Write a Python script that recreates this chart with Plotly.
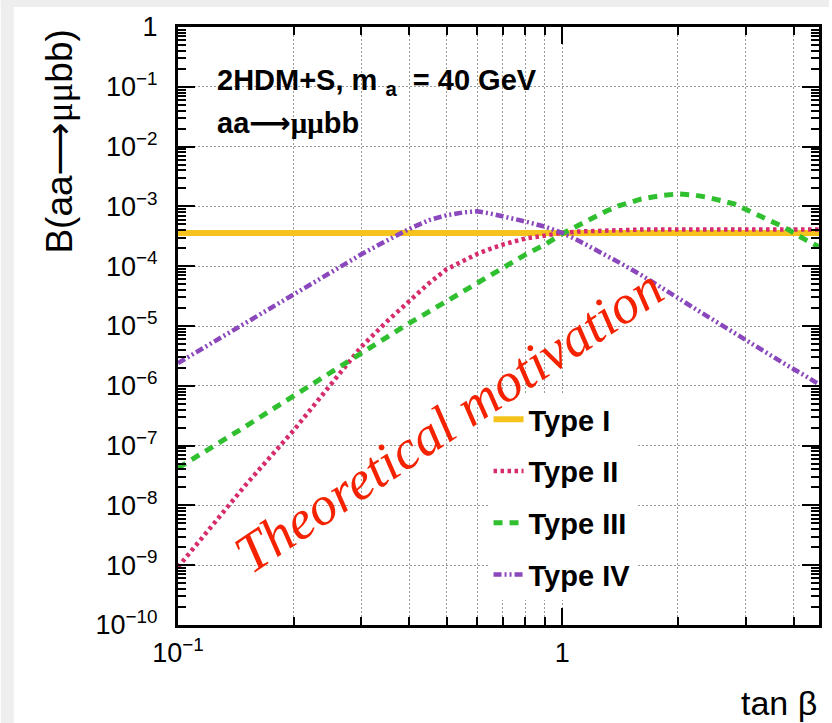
import plotly.graph_objects as go

# ---------------- data ----------------
tan_beta = [0.10, 0.12, 0.15, 0.20, 0.25, 0.30, 0.35, 0.40, 0.45, 0.50, 0.55, 0.60,
            0.65, 0.70, 0.80, 0.90, 1.0, 1.1, 1.2, 1.3, 1.4, 1.6, 1.8, 2.0, 2.2, 2.4,
            2.8, 3.3, 3.8, 4.3, 4.66]

B_type1 = [3.6e-4, 3.6e-4, 3.6e-4, 3.6e-4, 3.6e-4, 3.6e-4, 3.6e-4, 3.6e-4, 3.6e-4, 3.6e-4,
           3.6e-4, 3.6e-4, 3.6e-4, 3.6e-4, 3.6e-4, 3.6e-4, 3.6e-4, 3.6e-4, 3.6e-4, 3.6e-4,
           3.6e-4, 3.6e-4, 3.6e-4, 3.6e-4, 3.6e-4, 3.6e-4, 3.6e-4, 3.6e-4, 3.6e-4, 3.6e-4,
           3.6e-4]

B_type2 = [9.3e-10, 3.8e-9, 2.2e-8, 1.8e-7, 1.1e-6, 4.5e-6, 1.2e-5, 2.7e-5, 5.2e-5, 8.9e-5,
           1.23e-4, 1.6e-4, 1.95e-4, 2.3e-4, 2.9e-4, 3.3e-4, 3.6e-4, 3.8e-4, 3.9e-4, 4.0e-4,
           4.0e-4, 4.1e-4, 4.1e-4, 4.1e-4, 4.1e-4, 4.1e-4, 4.1e-4, 4.1e-4, 4.1e-4, 4.1e-4,
           4.1e-4]

B_type3 = [4.2e-8, 8.5e-8, 2.1e-7, 6.8e-7, 1.7e-6, 3.5e-6, 6.6e-6, 1.12e-5, 1.74e-5, 2.6e-5,
           3.8e-5, 5.2e-5, 7.2e-5, 9.5e-5, 1.55e-4, 2.3e-4, 3.5e-4, 4.8e-4, 6.5e-4, 8.3e-4,
           1.02e-3, 1.32e-3, 1.51e-3, 1.62e-3, 1.55e-3, 1.41e-3, 1.10e-3, 6.8e-4, 4.4e-4,
           2.75e-4, 2.1e-4]

B_type4 = [2.4e-6, 4.8e-6, 1.12e-5, 3.4e-5, 7.9e-5, 1.58e-4, 2.7e-4, 4.2e-4, 5.9e-4, 7.1e-4,
           7.9e-4, 8.3e-4, 7.6e-4, 6.9e-4, 5.6e-4, 4.6e-4, 3.6e-4, 2.7e-4, 2.0e-4, 1.55e-4,
           1.17e-4, 7.2e-5, 4.6e-5, 2.95e-5, 2.0e-5, 1.41e-5, 7.6e-6, 4.1e-6, 2.3e-6,
           1.45e-6, 1.05e-6]

series_names = ["Type I", "Type II", "Type III", "Type IV"]
series_values = [B_type1, B_type2, B_type3, B_type4]

y_tick_vals = [1e-10, 1e-9, 1e-8, 1e-7, 1e-6, 1e-5, 1e-4, 1e-3, 1e-2, 1e-1, 1]
y_tick_text = ["10<sup>−10</sup>", "10<sup>−9</sup>", "10<sup>−8</sup>", "10<sup>−7</sup>",
               "10<sup>−6</sup>", "10<sup>−5</sup>", "10<sup>−4</sup>", "10<sup>−3</sup>",
               "10<sup>−2</sup>", "10<sup>−1</sup>", "1"]
x_tick_vals = [0.1, 1]
x_tick_text = ["10<sup>−1</sup>", "1"]
x_minor_vals = [0.2, 0.3, 0.4, 0.5, 0.6, 0.7, 0.8, 0.9, 2, 3, 4]

# ---------------- styles ----------------
line_styles = [
    dict(color="#f6c21c", width=6, dash="solid"),
    dict(color="#d62b6c", width=4.5, dash="3.5px,3.5px"),
    dict(color="#2fbf2f", width=5, dash="9px,7px"),
    dict(color="#8a48bc", width=4.5, dash="8px,3px,2px,3px,2px,3px"),
]

FONT = "Liberation Sans, Arial, Helvetica, sans-serif"
ARROW = '<span style="font-family:DejaVu Sans">⟶</span>'
MU = '<span style="font-family:Liberation Serif">μμ</span>'

fig = go.Figure()
for name, vals, ls in zip(series_names, series_values, line_styles):
    fig.add_trace(go.Scatter(x=tan_beta, y=vals, mode="lines", name=name,
                             line=ls, legendgroup=name))

y_minor = [m * 10.0 ** e for e in range(-10, 0) for m in range(2, 10)]

W, H = 832, 723
L, R, T, B = 178, 10, 27, 98
pw, ph = W - L - R, H - T - B


def px(xp):
    return (xp - L) / pw


def py(yp):
    return (H - B - yp) / ph


fig.update_layout(
    width=W, height=H,
    margin=dict(l=L, r=R, t=T, b=B),
    paper_bgcolor="white", plot_bgcolor="white",
    font=dict(family=FONT, color="black"),
    showlegend=True,
    legend=dict(x=px(490), y=py(394), xanchor="left", yanchor="top",
                bgcolor="white", borderwidth=0, tracegroupgap=11,
                font=dict(family=FONT, size=29, weight="bold", color="black")),
    xaxis=dict(type="log", range=[-1, 0.668],
               showline=True, linecolor="black", linewidth=3, mirror="ticks",
               ticks="inside", ticklen=17, tickwidth=2, tickcolor="black",
               tickvals=x_tick_vals, ticktext=x_tick_text,
               tickfont=dict(size=27, family=FONT), ticklabelstandoff=2,
               showgrid=True, gridcolor="#9a9a9a", gridwidth=1, griddash="2px,2px",
               zeroline=False,
               minor=dict(tickvals=x_minor_vals, ticks="inside", ticklen=8, tickwidth=2,
                          tickcolor="black", showgrid=True, gridcolor="#9a9a9a",
                          gridwidth=1, griddash="2px,2px")),
    yaxis=dict(type="log", range=[-10, 0],
               showline=True, linecolor="black", linewidth=3, mirror="ticks",
               ticks="inside", ticklen=17, tickwidth=2, tickcolor="black",
               tickvals=y_tick_vals, ticktext=y_tick_text,
               tickfont=dict(size=27, family=FONT), ticklabelstandoff=12,
               showgrid=True, gridcolor="#9a9a9a", gridwidth=1, griddash="2px,2px",
               zeroline=False,
               minor=dict(tickvals=y_minor, ticks="inside", ticklen=8, tickwidth=2,
                          tickcolor="black", showgrid=False)),
)

annotations = [
    dict(text="2HDM+S, m <sub>a</sub>  = 40 GeV", x=px(215), y=py(82), xanchor="left",
         yanchor="middle", font=dict(size=29, weight="bold", family=FONT)),
    dict(text="aa" + ARROW + MU + "bb", x=px(215), y=py(123), xanchor="left",
         yanchor="middle", font=dict(size=29, weight="bold", family=FONT)),
    dict(text="B(aa" + ARROW + MU + "bb)", x=px(58), y=py(28), xanchor="center",
         yanchor="top", textangle=-90, font=dict(size=37, family=FONT)),
    dict(text="tan β", x=px(822), y=py(703), xanchor="right", yanchor="middle",
         font=dict(size=34, family=FONT)),
    dict(text="Theoretical motivation", x=px(450), y=py(420), xanchor="center",
         yanchor="middle", textangle=-33.7,
         font=dict(size=55, family="Liberation Serif, Times New Roman, serif",
                   style="italic", color="#f52200")),
]
for a in annotations:
    a.update(xref="paper", yref="paper", showarrow=False)
fig.update_layout(annotations=annotations)

# slide border strips (top and left)
fig.add_shape(type="rect", xref="paper", yref="paper", x0=px(0), x1=px(W), y0=py(7), y1=py(0),
              fillcolor="#eeeeee", line_width=0, layer="below")
fig.add_shape(type="rect", xref="paper", yref="paper", x0=px(0), x1=px(13), y0=py(H), y1=py(0),
              fillcolor="#eeeeee", line_width=0, layer="below")

fig.write_html("out.html")
